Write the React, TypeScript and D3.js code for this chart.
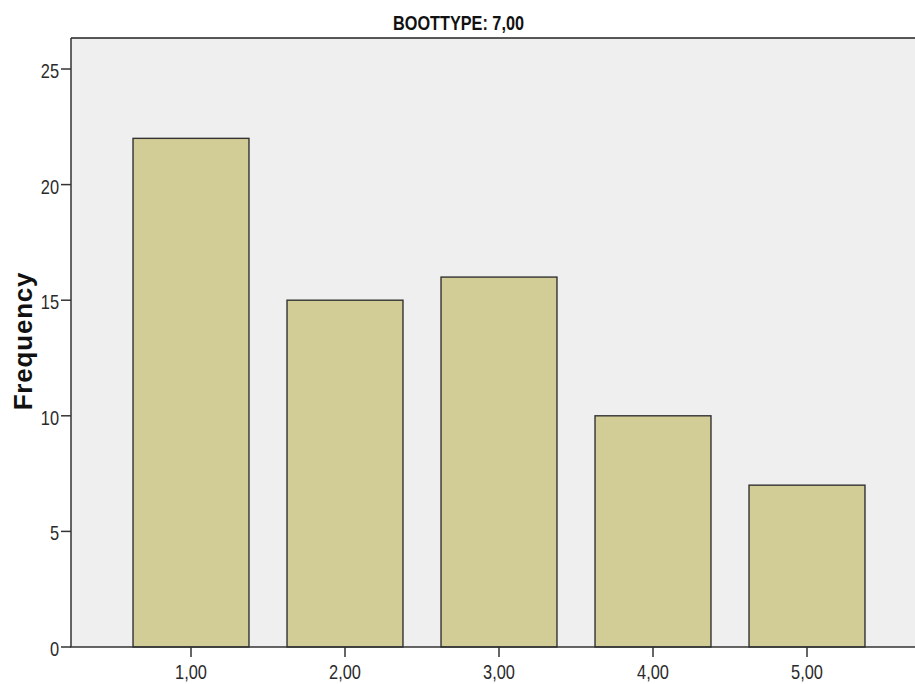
import React from "react";
import * as d3 from "d3";

const categories = ["1,00", "2,00", "3,00", "4,00", "5,00"];
const frequencies = [22, 15, 16, 10, 7];
const yTicks = [0, 5, 10, 15, 20, 25];
const title = "BOOTTYPE: 7,00";
const yLabel = "Frequency";

const W = 915;
const H = 684;
const plot = { left: 71, top: 38, right: 915, bottom: 647 };

export default function App() {
  const y = d3.scaleLinear().domain([0, 25]).range([plot.bottom, 69]);
  const x = d3
    .scaleBand<string>()
    .domain(categories)
    .range([114, 884])
    .paddingInner(0.247)
    .paddingOuter(0.1235);
  const font = "'Liberation Sans', Arial, sans-serif";
  const sx = 0.82;

  return (
    <svg width={W} height={H} style={{ position: "absolute", left: 0, top: 0, background: "#fff" }}>
      <rect x={plot.left} y={plot.top} width={plot.right - plot.left} height={plot.bottom - plot.top} fill="#efefef" />
      {frequencies.map((v, i) => (
        <rect
          key={i}
          x={x(categories[i])!}
          y={y(v)}
          width={x.bandwidth()}
          height={plot.bottom - y(v)}
          fill="#d2cd96"
          stroke="#333"
          strokeWidth={1.4}
        />
      ))}
      <line x1={plot.left} x2={plot.right} y1={plot.top} y2={plot.top} stroke="#222" strokeWidth={1.5} />
      <line x1={plot.left} x2={plot.left} y1={plot.top} y2={plot.bottom} stroke="#333" strokeWidth={1.5} />
      <line x1={plot.left - 1} x2={plot.right} y1={plot.bottom} y2={plot.bottom} stroke="#333" strokeWidth={1.5} />
      {yTicks.map((t) => (
        <g key={t}>
          <line x1={plot.left - 10} x2={plot.left} y1={y(t)} y2={y(t)} stroke="#333" strokeWidth={1.5} />
          <text
            transform={`translate(${plot.left - 12}, ${y(t) + 9}) scale(${sx},1)`}
            textAnchor="end"
            fontSize={20}
            fontFamily={font}
            fill="#2a2a2a"
          >
            {t}
          </text>
        </g>
      ))}
      {categories.map((c) => {
        const cx = x(c)! + x.bandwidth() / 2;
        return (
          <g key={c}>
            <line x1={cx} x2={cx} y1={plot.bottom} y2={plot.bottom + 10} stroke="#333" strokeWidth={1.5} />
            <text
              transform={`translate(${cx}, 679) scale(${sx},1)`}
              textAnchor="middle"
              fontSize={20}
              fontFamily={font}
              fill="#2a2a2a"
            >
              {c}
            </text>
          </g>
        );
      })}
      <text
        transform={`translate(458.5, 29.5) scale(0.775,1)`}
        textAnchor="middle"
        fontSize={21}
        fontWeight="bold"
        fontFamily={font}
        fill="#111"
      >
        {title}
      </text>
      <text
        transform={`translate(32, 341) rotate(-90)`}
        textAnchor="middle"
        fontSize={26}
        fontWeight="bold"
        letterSpacing={0.8}
        fontFamily={font}
        fill="#111"
      >
        {yLabel}
      </text>
    </svg>
  );
}
